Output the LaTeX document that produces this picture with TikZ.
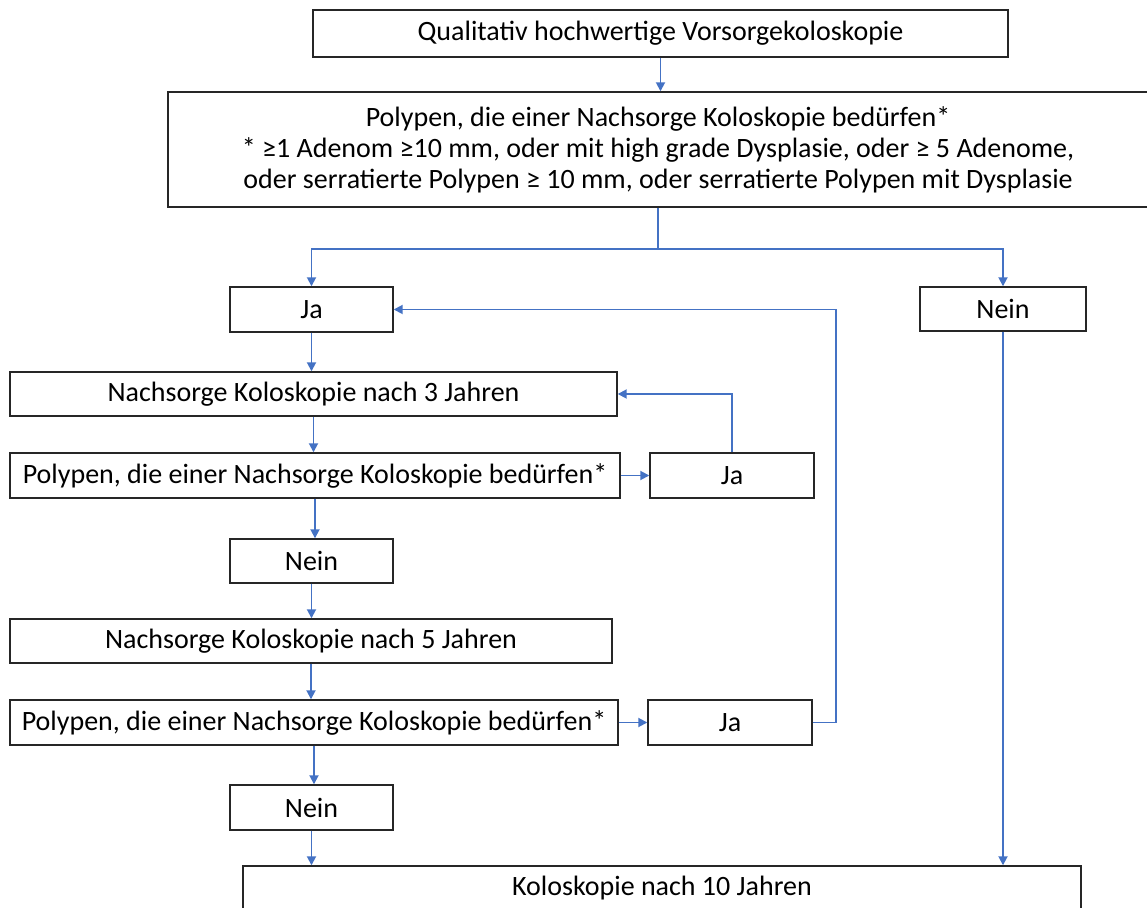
\documentclass[tikz,border=0pt]{standalone}
\usepackage{fontspec}
\setmainfont{Carlito}
\usetikzlibrary{arrows.meta}
\definecolor{flowblue}{HTML}{4472C4}

\begin{document}
\begin{tikzpicture}[x=0.5pt, y=-0.5pt]
	\tikzset{box/.style = {draw=black!85, line width=0.7pt, inner sep=0pt,
	align=center, font=\fontsize{14}{15.5}\selectfont},
	arr/.style = {draw=flowblue, line width=0.9pt,
	-{Triangle[length=4.5pt, width=4.5pt]}}}
	\clip (0,0) rectangle (1147,908);
	
	\node[box, minimum width=347.5pt, minimum height=23.5pt] (k_top) at (660.5,33.5)
	{Qualitativ hochwertige Vorsorgekoloskopie};
	\node[box, minimum width=490pt, minimum height=57.5pt] (k_crit) at (658,149.5)
	{Polypen, die einer Nachsorge Koloskopie bedürfen*\\{}* ≥1 Adenom ≥10 mm, oder mit high grade Dysplasie, oder ≥ 5 Adenome,\\oder serratierte Polypen ≥ 10 mm, oder serratierte Polypen mit Dysplasie};
	\coordinate (fork) at (658,249);
	
	\node[box, minimum width=81.5pt, minimum height=22.5pt] (ja_a) at (311.5,309.5) {Ja};
	\node[box, minimum width=83pt, minimum height=22pt] (nein_r) at (1003,309) {Nein};
	\node[box, minimum width=303.5pt, minimum height=22pt] (k_3) at (313.5,394)
	{Nachsorge Koloskopie nach 3 Jahren};
	\node[box, minimum width=305pt, minimum height=22.5pt] (p_a) at (315,475.5)
	{Polypen, die einer Nachsorge Koloskopie bedürfen*};
	\node[box, minimum width=82pt, minimum height=22.5pt] (ja_b) at (732,475.5) {Ja};
	\node[box, minimum width=81.5pt, minimum height=22pt] (nein_a) at (311.5,561) {Nein};
	\node[box, minimum width=301pt, minimum height=22pt] (k_5) at (311,641)
	{Nachsorge Koloskopie nach 5 Jahren};
	\node[box, minimum width=304pt, minimum height=22.5pt] (p_b) at (314,722.5)
	{Polypen, die einer Nachsorge Koloskopie bedürfen*};
	\node[box, minimum width=82pt, minimum height=22.5pt] (ja_c) at (730,722.5) {Ja};
	\node[box, minimum width=81.5pt, minimum height=22.5pt] (nein_b) at (311.5,807.5) {Nein};
	\node[box, minimum width=419pt, minimum height=22.5pt] (k_10) at (662,888.5)
	{Koloskopie nach 10 Jahren};
	
	\draw[arr] (k_top.south) -- (k_top.south |- k_crit.north);
	\draw[flowblue, line width=0.9pt] (k_crit.south) -- (fork);
	\draw[arr] (fork) -| (ja_a);
	\draw[arr] (fork) -| (nein_r);
	\draw[arr] (ja_a.south) -- (ja_a.south |- k_3.north);
	\draw[arr] (k_3.south) -- (k_3.south |- p_a.north);
	\draw[arr] (p_a) -- (ja_b);
	\draw[arr] (ja_b) |- (k_3);
	\draw[arr] (p_a.south) -- (p_a.south |- nein_a.north);
	\draw[arr] (nein_a.south) -- (nein_a.south |- k_5.north);
	\draw[arr] (k_5.south) -- (k_5.south |- p_b.north);
	\draw[arr] (p_b) -- (ja_c);
	\draw[arr] (ja_c.east) -- ++(23,0) |- (ja_a);
	\draw[arr] (p_b.south) -- (p_b.south |- nein_b.north);
	\draw[arr] (nein_b.south) -- (nein_b.south |- k_10.north);
	\draw[arr] (nein_r) -- (nein_r |- k_10.north);
\end{tikzpicture}
\end{document}
